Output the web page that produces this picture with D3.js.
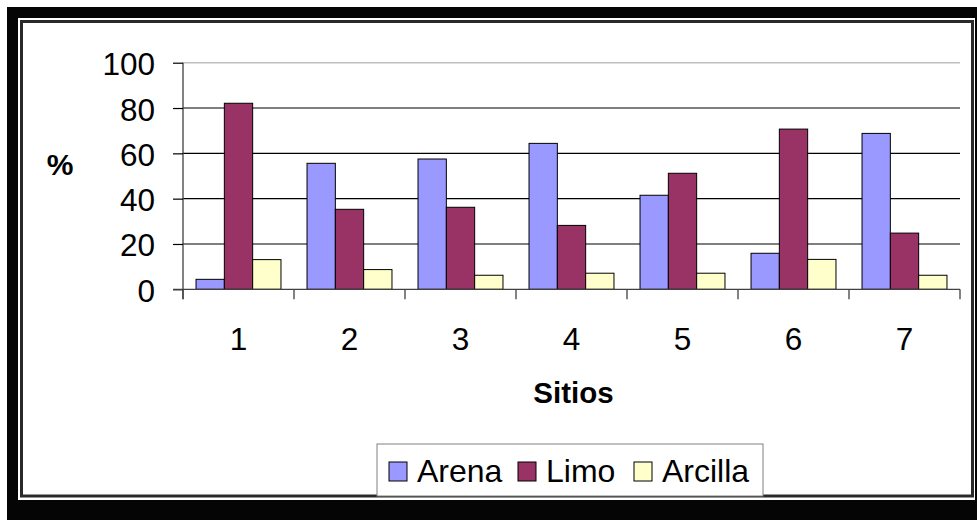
<!DOCTYPE html>
<html><head><meta charset="utf-8">
<script src="https://cdn.jsdelivr.net/npm/d3@7"></script>
<style>body{margin:0;background:#fff}svg{display:block;font-family:"Liberation Sans",Arial,sans-serif}</style>
</head><body>
<svg id="c" width="977" height="520"></svg>
<script>
const categories = ["1","2","3","4","5","6","7"];
const seriesNames = ["Arena","Limo","Arcilla"];
const arena   = [4.4, 55.6, 57.5, 64.4, 41.5, 15.9, 68.8];
const limo    = [82.1, 35.3, 36.2, 28.2, 51.2, 70.7, 24.8];
const arcilla = [13.1, 8.7, 6.2, 7.1, 7.1, 13.2, 6.2];
const yTicks  = [0, 20, 40, 60, 80, 100];
const colors  = ["#9999FF", "#993366", "#FFFFCC"];
const seriesValues = [arena, limo, arcilla];

(function(){
const svg = d3.select("#c");
// frame
svg.append("rect").attr("x",7).attr("y",7).attr("width",1000).attr("height",1000).attr("fill","#050505");
svg.append("rect").attr("x",18).attr("y",18).attr("width",957).attr("height",482).attr("fill","#fff");
svg.append("rect").attr("x",21.5).attr("y",21.5).attr("width",951).attr("height",474.5)
  .attr("fill","none").attr("stroke","#2a2a2a").attr("stroke-width",3);

const pL = 183, pR = 960, pT = 62.7, pB = 289.3;
const x = d3.scaleBand().domain(categories).range([pL, pR]).paddingInner(0).paddingOuter(0);
const inner = d3.scaleBand().domain(seriesNames).range([0, x.bandwidth()]).paddingOuter(0.46).paddingInner(0);
const y = d3.scaleLinear().domain([0, 100]).range([pB, pT]);

// gridlines
svg.append("g").selectAll("line").data(yTicks.filter(t => t > 0)).join("line")
  .attr("x1", pL).attr("x2", pR).attr("y1", d => y(d)).attr("y2", d => y(d))
  .attr("stroke", d => d === 100 ? "#c0c0c0" : "#000").attr("stroke-width", d => d === 100 ? 1.5 : 1.2);

// bars
seriesNames.forEach((s, si) => {
  svg.append("g").selectAll("rect").data(seriesValues[si]).join("rect")
    .attr("x", (d, i) => x(categories[i]) + inner(s))
    .attr("y", d => y(d))
    .attr("width", inner.bandwidth())
    .attr("height", d => y(0) - y(d))
    .attr("fill", colors[si]).attr("stroke", "#000").attr("stroke-width", 1);
});

// y axis
const yAxis = svg.append("g").attr("transform", `translate(${pL},0)`)
  .call(d3.axisLeft(y).tickValues(yTicks).tickSize(10).tickPadding(18).tickFormat(d3.format("d")));
yAxis.select(".domain").attr("stroke", "#404040").attr("stroke-width", 1.3).attr("d", `M0,${pT}V${pB+10}`);
yAxis.selectAll(".tick line").attr("stroke", "#000").attr("stroke-width", 1.2);
yAxis.selectAll(".tick text").attr("font-size", 31.5).attr("fill", "#000")
  .attr("font-family", '"Liberation Sans",Arial,sans-serif').attr("dy", "0.38em");

// x axis
svg.append("line").attr("x1", pL - 10).attr("x2", pR).attr("y1", pB).attr("y2", pB)
  .attr("stroke", "#404040").attr("stroke-width", 1.3);
const boundaries = categories.map(c => x(c)).concat([pR]);
svg.append("g").selectAll("line").data(boundaries).join("line")
  .attr("x1", d => d).attr("x2", d => d).attr("y1", pB).attr("y2", pB + 10)
  .attr("stroke", "#404040").attr("stroke-width", 1.3);
svg.append("g").selectAll("text").data(categories).join("text")
  .attr("x", d => x(d) + x.bandwidth() / 2).attr("y", 350)
  .attr("text-anchor", "middle").attr("font-size", 31.5).text(d => d);

// axis titles
svg.append("text").attr("x", (pL + pR) / 2 + 2).attr("y", 402.5).attr("text-anchor", "middle")
  .attr("font-size", 29.5).attr("font-weight", "bold").text("Sitios");
svg.append("text").attr("x", 60).attr("y", 175).attr("text-anchor", "middle")
  .attr("font-size", 30).attr("font-weight", "bold").text("%");

// legend
const lg = svg.append("g");
lg.append("rect").attr("x", 377).attr("y", 444).attr("width", 386).attr("height", 52)
  .attr("fill", "#fff").attr("stroke", "#808080").attr("stroke-width", 1);
const legendX = [389, 518, 634];
seriesNames.forEach((s, i) => {
  lg.append("rect").attr("x", legendX[i]).attr("y", 462).attr("width", 18).attr("height", 19)
    .attr("fill", colors[i]).attr("stroke", "#000").attr("stroke-width", 1);
  lg.append("text").attr("x", legendX[i] + 28).attr("y", 482).attr("font-size", 32).text(s);
});
})();
</script>
</body></html>
